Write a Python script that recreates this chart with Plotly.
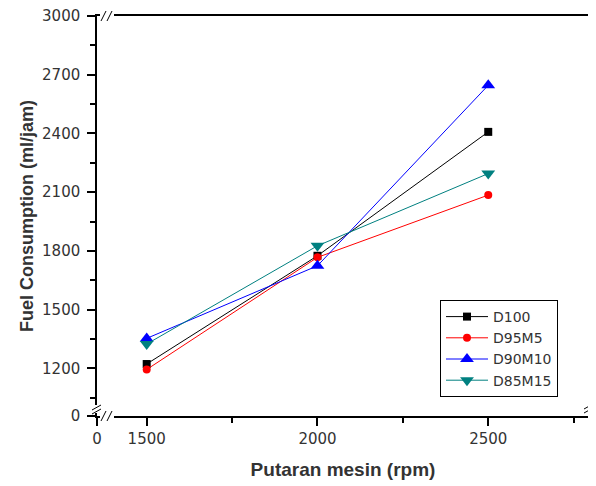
import plotly.graph_objects as go

# ---- data ----
rpm = [1500, 2000, 2500]
series_names = ["D100", "D95M5", "D90M10", "D85M15"]
d100 = [1222, 1775, 2408]
d95m5 = [1194, 1767, 2085]
d90m10 = [1353, 1724, 2646]
d85m15 = [1324, 1826, 2195]

x_ticks = [1500, 2000, 2500]
x_minor = [1750, 2250, 2750]
y_ticks = [1200, 1500, 1800, 2100, 2400, 2700, 3000]
y_minor = [1050, 1350, 1650, 1950, 2250, 2550, 2850]
x_range = [1354.5, 2795]
y_range = [956.5, 3000]

OFF = 8  # browser body margin
W, H = 586, 476
L, T = 97 - OFF, 16 - OFF
R = W - (589 - OFF)
B = H - (416 - OFF)
PW, PH = W - L - R, H - T - B

colors = ["#000000", "#ff0000", "#0000ff", "#008080"]
symbols = ["square", "circle", "triangle-up", "triangle-down"]
sizes = [8, 8, 12, 12]
values = [d100, d95m5, d90m10, d85m15]

fig = go.Figure()
for name, vals, c, s, sz in zip(series_names, values, colors, symbols, sizes):
    fig.add_trace(go.Scatter(x=rpm, y=vals, name=name, mode="lines+markers",
                             line=dict(color=c, width=1),
                             marker=dict(symbol=s, size=sz, color=c, line=dict(width=0))))

# page pixel -> paper
def px(x):
    return (x - OFF - L) / PW

def py(y):
    return (H - B - (y - OFF)) / PH

shapes = []
def rect(x0, y0, x1, y1):
    shapes.append(dict(type="rect", xref="paper", yref="paper", x0=px(x0), x1=px(x1),
                       y0=py(y1), y1=py(y0), fillcolor="white", line=dict(width=0), layer="above"))
def seg(x0, y0, x1, y1):
    shapes.append(dict(type="line", xref="paper", yref="paper", x0=px(x0), x1=px(x1),
                       y0=py(y0), y1=py(y1), line=dict(color="black", width=1), layer="above"))

# axis breaks
rect(95, 405, 100, 413); seg(92, 410, 101, 405); seg(92, 414, 101, 409)
rect(100, 414, 114, 419); seg(101, 421, 106, 411); seg(107, 421, 112, 411)
rect(100, 13, 114, 19); seg(101, 21, 106, 11); seg(107, 21, 112, 11)
rect(586, 404, 592, 413); seg(584, 409, 593, 404); seg(584, 413, 593, 408)

tickfont = dict(family="DejaVu Sans", size=15, color="#333")

fig.update_layout(
    width=W, height=H,
    margin=dict(l=L, r=R, t=T, b=B, autoexpand=False),
    paper_bgcolor="white", plot_bgcolor="white",
    showlegend=True,
    legend=dict(x=px(440), y=py(300), xanchor="left", yanchor="top",
                bordercolor="black", borderwidth=1, bgcolor="white",
                font=dict(family="DejaVu Sans", size=14, color="#333"),
                tracegroupgap=0, itemwidth=42),
    shapes=shapes,
    xaxis=dict(range=x_range, showgrid=False, zeroline=False, automargin=False,
               showline=True, linecolor="black", linewidth=1.5, mirror=True,
               tickmode="array", tickvals=[x_range[0]] + x_ticks,
               ticktext=["0"] + [str(v) for v in x_ticks],
               ticks="outside", ticklen=8, tickwidth=1.5, tickcolor="black",
               tickfont=tickfont, ticklabeloverflow="allow",
               minor=dict(tickmode="array", tickvals=x_minor, ticks="outside",
                          ticklen=5, tickwidth=1.5, tickcolor="black"),
               title=dict(text="<b>Putaran mesin (rpm)</b>",
                          font=dict(family="Liberation Sans, Arial", size=19, color="#333"),
                          standoff=16)),
    yaxis=dict(range=y_range, showgrid=False, zeroline=False, automargin=False,
               showline=True, linecolor="black", linewidth=1.5, mirror=True,
               tickmode="array", tickvals=[y_range[0]] + y_ticks,
               ticktext=["0"] + [str(v) for v in y_ticks],
               ticks="outside", ticklen=8, tickwidth=1.5, tickcolor="black",
               tickfont=tickfont, ticklabelstandoff=4, ticklabeloverflow="allow",
               minor=dict(tickmode="array", tickvals=y_minor, ticks="outside",
                          ticklen=5, tickwidth=1.5, tickcolor="black"),
               title=dict(text="<b>Fuel Consumption (ml/jam)</b>",
                          font=dict(family="Liberation Sans, Arial", size=18, color="#333"),
                          standoff=4)),
)

fig.write_html("out.html")
